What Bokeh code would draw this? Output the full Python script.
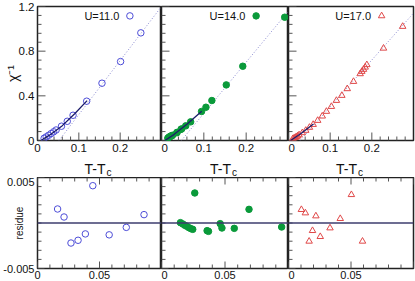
from bokeh.plotting import figure
from bokeh.layouts import column, row
from bokeh.models import Range1d, LinearAxis, FixedTicker, Label, Span
from bokeh.embed import file_html
from bokeh.resources import INLINE

FONT = "Liberation Sans"

# ---------------- data ----------------
u_labels = ["U=11.0", "U=14.0", "U=17.0"]

t1_x = [0.016, 0.021, 0.027, 0.033, 0.039, 0.045, 0.058, 0.072, 0.086, 0.119, 0.156, 0.201, 0.250]
t1_y = [0.020, 0.032, 0.047, 0.062, 0.078, 0.094, 0.128, 0.172, 0.226, 0.352, 0.513, 0.707, 0.964]
f1_x = [0.010, 0.030, 0.060, 0.090, 0.120]
f1_y = [0.004, 0.050, 0.133, 0.240, 0.357]
d1_x = [0.052, 0.300]
d1_y = [0.000, 1.200]
r1_x = [0.0162, 0.0214, 0.0270, 0.0327, 0.0386, 0.0446, 0.0578, 0.0716, 0.0859]
r1_y = [0.00154, 0.00066, -0.00220, -0.00190, -0.00120, 0.00410, -0.00130, -0.00048, 0.00092]

t2_x = [0.0149, 0.0168, 0.0184, 0.0200, 0.0216, 0.0232, 0.0246, 0.0262, 0.0359, 0.0370,
        0.0462, 0.0476, 0.0573, 0.0689, 0.0946, 0.105, 0.119, 0.153, 0.192, 0.291]
t2_y = [0.021, 0.026, 0.031, 0.035, 0.038, 0.041, 0.044, 0.047, 0.069, 0.073,
        0.100, 0.104, 0.131, 0.167, 0.260, 0.298, 0.358, 0.498, 0.665, 1.104]
f2_x = [0.008, 0.030, 0.060, 0.095]
f2_y = [0.000, 0.055, 0.145, 0.262]
d2_x = [0.047, 0.300]
d2_y = [0.000, 1.160]
r2_x = [0.0149, 0.0168, 0.0184, 0.0200, 0.0216, 0.0232, 0.0246, 0.0262, 0.0359, 0.0370,
        0.0462, 0.0476, 0.0573, 0.0689, 0.0946]
r2_y = [0.00004, -0.00011, -0.00026, -0.00037, -0.00051, -0.00062, -0.00070, 0.00330, -0.00084, -0.00092,
        -0.00007, -0.00055, -0.00059, 0.00150, -0.00044]

t3_x = [0.0103, 0.0135, 0.0165, 0.0192, 0.0219, 0.0254, 0.0332, 0.0414, 0.0503, 0.0592,
        0.070, 0.081, 0.091, 0.103, 0.115, 0.128, 0.141, 0.156, 0.172, 0.176, 0.180, 0.184, 0.188,
        0.228, 0.274]
t3_y = [0.016, 0.022, 0.027, 0.034, 0.040, 0.050, 0.069, 0.090, 0.117, 0.143,
        0.179, 0.218, 0.260, 0.304, 0.358, 0.403, 0.463, 0.528, 0.597, 0.618, 0.636, 0.656, 0.678,
        0.826, 1.021]
f3_x = [0.005, 0.030, 0.060]
f3_y = [0.000, 0.062, 0.147]
d3_x = [0.028, 0.300]
d3_y = [0.000, 1.140]
r3_x = [0.0103, 0.0135, 0.0165, 0.0192, 0.0219, 0.0254, 0.0332, 0.0414, 0.0503, 0.0592]
r3_y = [0.00147, 0.00110, -0.00201, -0.00084, 0.00077, -0.00150, -0.00055, 0.00048, 0.00311, -0.00201]

top_xticks = [0.0, 0.1, 0.2]
top_xlabels = ["0", "0.1", "0.2"]
top_xminor = [0.02, 0.04, 0.06, 0.08, 0.12, 0.14, 0.16, 0.18, 0.22, 0.24, 0.26, 0.28]
top_yticks = [0.0, 0.4, 0.8, 1.2]
top_ylabels = ["0", "0.4", "0.8", "1.2"]
top_yminor = [0.08, 0.16, 0.24, 0.32, 0.48, 0.56, 0.64, 0.72, 0.88, 0.96, 1.04, 1.12]
bot_xticks = [0.0, 0.05, 0.1]
bot_xlabels = ["0", "0.05", ""]
bot_xminor = [0.01, 0.02, 0.03, 0.04, 0.06, 0.07, 0.08, 0.09]
bot_yticks = [-0.005, 0.005]
bot_ylabels = ["-0.005", "0.005"]
bot_yminor = [-0.004, -0.003, -0.002, -0.001, 0.0, 0.001, 0.002, 0.003, 0.004]

BLUE = "#4d4dd8"
GREEN = "#0a9a3a"
RED = "#e04848"
styles = [
    dict(marker="circle", color=BLUE, fill=None),
    dict(marker="circle", color=GREEN, fill=GREEN),
    dict(marker="triangle", color=RED, fill=None),
]
tops = [(t1_x, t1_y, f1_x, f1_y, d1_x, d1_y),
        (t2_x, t2_y, f2_x, f2_y, d2_x, d2_y),
        (t3_x, t3_y, f3_x, f3_y, d3_x, d3_y)]
bots = [(r1_x, r1_y), (r2_x, r2_y), (r3_x, r3_y)]

FWS = [124, 127, 125]
LEFT = 37
TICK = "#555555"


def style_axis(ax, ticks, labels, show, size="11.5px"):
    ax.ticker = FixedTicker(ticks=ticks)
    ax.major_label_overrides = {t: (l if show else "") for t, l in zip(ticks, labels)}
    ax.axis_line_color = None
    ax.major_tick_line_color = None
    ax.minor_tick_line_color = None
    ax.major_tick_in = 0
    ax.major_tick_out = 0
    ax.major_label_text_font = FONT
    ax.major_label_text_font_size = size if show else "0px"
    ax.major_label_text_color = "#111111"
    ax.major_label_standoff = 3 if show else 0


def edge_ticks(p, vals, rng, at_end, vertical, length_px, frame_px):
    # inward tick marks starting on a frame edge, drawn through the plot's scales
    span = rng.end - rng.start
    d = span * length_px / frame_px
    e0 = rng.end if at_end else rng.start
    e1 = e0 - d if at_end else e0 + d
    n = len(vals)
    if vertical:
        p.segment(x0=vals, y0=[e0] * n, x1=vals, y1=[e1] * n, line_color=TICK, line_width=1)
    else:
        p.segment(x0=[e0] * n, y0=vals, x1=[e1] * n, y1=vals, line_color=TICK, line_width=1)


def base_fig(i, frame_h, xr, yr, top, bottom, axes=True):
    p = figure(frame_width=FWS[i], frame_height=frame_h, x_range=xr, y_range=yr,
               output_backend="svg", toolbar_location=None,
               x_axis_type=None, y_axis_type=None,
               min_border_left=LEFT if i == 0 else 0,
               min_border_right=2 if i == 2 else 0,
               min_border_top=top, min_border_bottom=bottom)
    p.outline_line_color = "#222222" if axes else None
    p.outline_line_width = 1.5
    p.extra_x_ranges = {"key": Range1d(0, 1)}
    p.extra_y_ranges = {"key": Range1d(0, 1)}
    return p


top_figs = []
for i in range(3):
    tx, ty, fx, fy, dx, dy = tops[i]
    st = styles[i]
    xr, yr = Range1d(0, 0.3), Range1d(0, 1.2)
    p = base_fig(i, 134, xr, yr, 6, 16)
    xa = LinearAxis()
    style_axis(xa, top_xticks, top_xlabels, True)
    p.add_layout(xa, "below")
    ya = LinearAxis()
    style_axis(ya, top_yticks, top_ylabels, i == 0)
    if i == 0:
        ya.axis_label = "χ⁻¹"
        ya.axis_label_text_font = FONT
        ya.axis_label_text_font_style = "normal"
        ya.axis_label_text_font_size = "14px"
        ya.axis_label_text_color = "#111111"
        ya.axis_label_standoff = -5
    p.add_layout(ya, "left")

    edge_ticks(p, top_xticks, yr, False, True, 8, 134)
    edge_ticks(p, top_xminor, yr, False, True, 4, 134)
    edge_ticks(p, top_yticks, xr, False, False, 8, FWS[i])
    edge_ticks(p, top_yminor, xr, False, False, 4, FWS[i])

    p.line(dx, dy, line_color="#8a8ad0", line_width=1, line_dash="1 2")
    p.scatter(tx, ty, marker=st["marker"], size=6.5, line_color=st["color"],
              fill_color=st["fill"], line_width=1)
    p.line(fx, fy, line_color="#1c1c6a", line_width=1.3)

    # legend entry: text then marker
    p.add_layout(Label(x=0.66, y=0.93, x_range_name="key", y_range_name="key",
                       text=u_labels[i], text_align="right", text_baseline="middle",
                       text_font=FONT, text_font_size="11px", text_color="#111111"))
    p.scatter([0.745], [0.93], x_range_name="key", y_range_name="key",
              marker=st["marker"], size=6.5, line_color=st["color"],
              fill_color=st["fill"], line_width=1)
    top_figs.append(p)

# strip with the x-axis titles T-T_c
mid_figs = []
for i in range(3):
    p = base_fig(i, 21, Range1d(0, 1), Range1d(0, 1), 0, 0, axes=False)
    p.add_layout(Label(x=0.5, y=9, y_units="screen", x_offset=-15,
                       text="T-T", text_align="left", text_baseline="middle",
                       text_font=FONT, text_font_size="14px", text_color="#111111"))
    p.add_layout(Label(x=0.5, y=5, y_units="screen", x_offset=7,
                       text="c", text_align="left", text_baseline="middle",
                       text_font=FONT, text_font_size="10px", text_color="#111111"))
    mid_figs.append(p)

bot_figs = []
for i in range(3):
    rx, ry = bots[i]
    st = styles[i]
    xr, yr = Range1d(0, 0.1), Range1d(-0.005, 0.005)
    p = base_fig(i, 91, xr, yr, 0, 13)
    xa = LinearAxis()
    style_axis(xa, bot_xticks, bot_xlabels, True, "11px")
    xa.major_label_standoff = 2
    p.add_layout(xa, "below")
    ya = LinearAxis()
    style_axis(ya, bot_yticks, bot_ylabels, i == 0, "11px")
    if i == 0:
        ya.axis_label = "residue"
        ya.axis_label_text_font = FONT
        ya.axis_label_text_font_style = "normal"
        ya.axis_label_text_font_size = "10px"
        ya.axis_label_text_color = "#111111"
        ya.axis_label_standoff = -25
    p.add_layout(ya, "left")

    edge_ticks(p, bot_xticks, yr, False, True, 7, 91)
    edge_ticks(p, bot_xminor, yr, False, True, 4, 91)
    edge_ticks(p, bot_xticks, yr, True, True, 7, 91)
    edge_ticks(p, bot_xminor, yr, True, True, 4, 91)
    edge_ticks(p, bot_yticks, xr, False, False, 7, FWS[i])
    edge_ticks(p, bot_yminor, xr, False, False, 4, FWS[i])

    p.add_layout(Span(location=0, dimension="width", line_color="#3c3c6e", line_width=1.3))
    p.scatter(rx, ry, marker=st["marker"], size=6.5, line_color=st["color"],
              fill_color=st["fill"], line_width=1)
    bot_figs.append(p)

layout = column(row(*top_figs), row(*mid_figs), row(*bot_figs))
open("out.html", "w").write(file_html(layout, INLINE))
